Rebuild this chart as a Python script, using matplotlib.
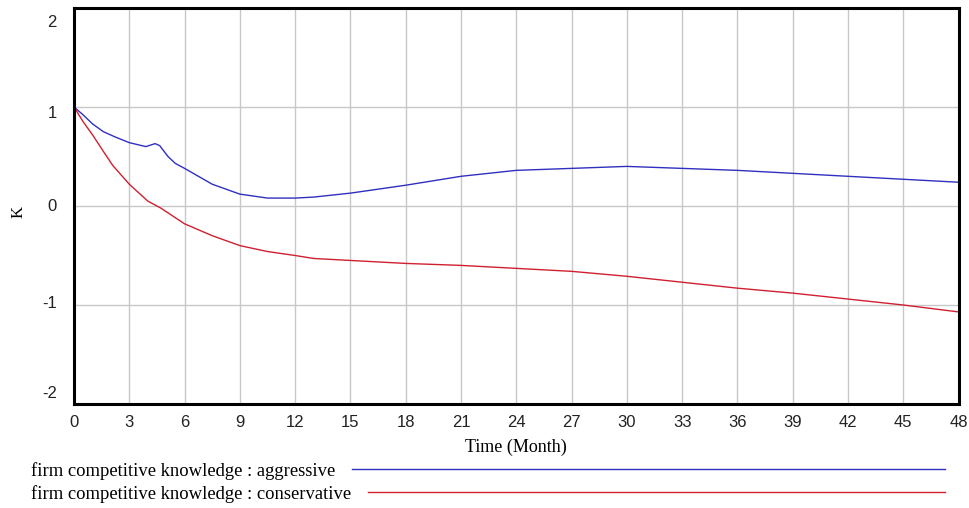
import matplotlib
matplotlib.use('Agg')
import matplotlib.pyplot as plt
from matplotlib.lines import Line2D
import matplotlib.transforms as mtransforms

plt.rcParams['axes.unicode_minus'] = False

# values
t_aggr = [0, 0.5, 1, 1.6, 2.2, 3, 3.9, 4.4, 4.65, 5.1, 5.5, 6, 7.5, 9, 10.5, 12, 13, 15, 18, 21, 24, 27,
          30, 33, 36, 39, 42, 45, 48]
k_aggr = [1.0, 0.92, 0.83, 0.75, 0.70, 0.64, 0.60, 0.63, 0.61, 0.50, 0.43, 0.38, 0.22, 0.12, 0.08, 0.08,
          0.09, 0.13, 0.21, 0.30, 0.36, 0.38, 0.40, 0.38, 0.36, 0.33, 0.30, 0.27, 0.24]

t_cons = [0, 0.5, 1, 1.6, 2.1, 3, 4, 4.7, 6, 7.5, 9, 10.5, 12, 13, 15, 18, 21, 24, 27, 30, 33, 36, 39,
          42, 45, 48]
k_cons = [1.0, 0.85, 0.72, 0.55, 0.41, 0.22, 0.05, -0.02, -0.18, -0.30, -0.40, -0.46, -0.50, -0.53,
          -0.55, -0.58, -0.60, -0.63, -0.66, -0.71, -0.77, -0.83, -0.88, -0.94, -1.0, -1.07]

x_ticks = list(range(0, 49, 3))
y_ticks = [-2, -1, 0, 1, 2]
series_names = ['firm competitive knowledge : aggressive', 'firm competitive knowledge : conservative']
series_colors = ['#3030c0', '#d02030']

W, H = 969, 508
fig = plt.figure(figsize=(W / 100, H / 100), dpi=100)
ax = fig.add_axes([74 / W, 1 - 404 / H, (958.6 - 74) / W, (404 - 8) / H])

ax.plot(t_aggr, k_aggr, color=series_colors[0], linewidth=1)
ax.plot(t_cons, k_cons, color=series_colors[1], linewidth=1)

ax.set_xlim(0, 48)
ax.set_ylim(-2, 2)
ax.set_xticks(x_ticks)
ax.set_yticks(y_ticks)
ax.set_yticklabels([])
ax.grid(True, color='#c8c8c8', linewidth=1)
ax.set_axisbelow(True)
for s in ax.spines.values():
    s.set_linewidth(2.2)
    s.set_color('black')
ax.tick_params(length=0, labelsize=12, pad=8)
for lab in ax.get_xticklabels():
    lab.set_fontfamily('Liberation Sans')
    lab.set_color('#222222')

# vensim spreads the y labels a bit inside the frame
ylab_shift = [11, 2, 0, -6, -14]   # px, up positive
for v, dy in zip(y_ticks, ylab_shift):
    tr = ax.get_yaxis_transform() + mtransforms.ScaledTranslation(-17 / 100, dy / 100, fig.dpi_scale_trans)
    ax.text(0, v, str(v), transform=tr, ha='right', va='center', fontsize=12,
            family='Liberation Sans', color='#222222')

ax.set_xlabel('Time (Month)', fontsize=13, family='Liberation Serif', labelpad=6)
ax.set_ylabel('K', fontsize=12, family='Liberation Serif')
ax.yaxis.set_label_coords((27 - 74) / 884.6, (404 - 212) / 396)

# Vensim-style legend under the chart
renderer = fig.canvas.get_renderer()
for i, (name, col) in enumerate(zip(series_names, series_colors)):
    y = 1 - (471 + 23 * i) / H
    txt = fig.text(31 / W, y, name, fontsize=13.4, family='Liberation Serif', va='center', ha='left')
    bb = txt.get_window_extent(renderer)
    x0 = (bb.x1 + 17) / W
    fig.add_artist(Line2D([x0, 945 / W], [y + 2 / H, y + 2 / H], color=col, linewidth=1,
                          transform=fig.transFigure))

fig.savefig('out.png', dpi=100)
